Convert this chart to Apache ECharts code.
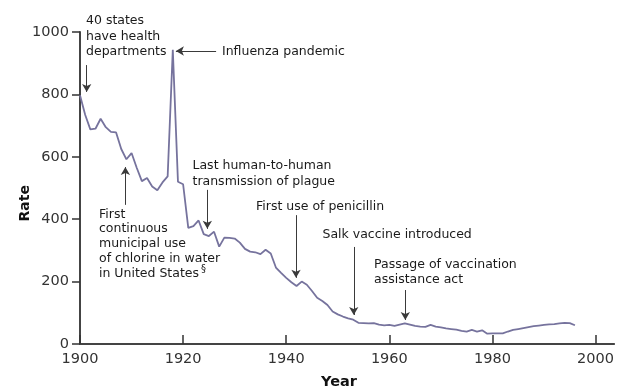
<!DOCTYPE html>
<html>
<head>
<meta charset="utf-8">
<script src="https://cdn.jsdelivr.net/npm/echarts@6/dist/echarts.min.js"></script>
<style>
  html, body { margin: 0; padding: 0; background: #fff; }
  #chart { width: 617px; height: 390px; }
</style>
</head>
<body>
<div id="chart"></div>
<script>
// Crude death rate for infectious diseases, United States, 1900-1996
const years = [];
for (let y = 1900; y <= 1996; y++) years.push(y);

const rates = [
  797, 735, 688, 690, 722, 695, 680, 678, 625, 592,   // 1900-1909
  612, 565, 522, 532, 505, 493, 518, 537, 943, 520,   // 1910-1919
  512, 372, 378, 396, 352, 346, 360, 312, 341, 340,   // 1920-1929
  338, 325, 305, 296, 294, 288, 302, 290, 245, 228,   // 1930-1939
  212, 198, 186, 200, 190, 170, 148, 138, 125, 104,   // 1940-1949
  95, 88, 82, 78, 68, 67, 66, 67, 62, 60,             // 1950-1959
  61, 58, 62, 66, 62, 58, 56, 55, 61, 56,             // 1960-1969
  53, 50, 48, 46, 42, 40, 45, 40, 44, 33,             // 1970-1979
  34, 34, 34, 40, 45, 48, 51, 54, 57, 59,             // 1980-1989
  61, 63, 64, 66, 68, 67, 60                          // 1990-1996
];

const xTicks = [1900, 1920, 1940, 1960, 1980, 2000];
const yTicks = [0, 200, 400, 600, 800, 1000];

// Arrow annotations: [year, from value] -> [year, to value]
const arrows = [
  [[1901.3, 894], [1901.3, 808]],   // 40 states have health departments
  [[1926.4, 939], [1918.6, 939]],   // Influenza pandemic
  [[1908.8, 446], [1908.8, 567]],   // chlorine in water
  [[1924.7, 494], [1924.7, 369]],   // plague
  [[1941.9, 413], [1941.9, 212]],   // penicillin
  [[1953.1, 311], [1953.1, 93]],    // Salk vaccine
  [[1963.1, 173], [1963.1, 77]]     // vaccination assistance act
];

const notes = [
  { text: '40 states\nhave health\ndepartments', x: 86, y: 13, lh: 15.5 },
  { text: 'Influenza pandemic', x: 222, y: 44, lh: 15 },
  { text: 'Last human-to-human\ntransmission of plague', x: 192.5, y: 158, lh: 15.7 },
  { text: 'First\ncontinuous\nmunicipal use\nof chlorine in water\nin United States', x: 99, y: 207, lh: 14.75 },
  { text: 'First use of penicillin', x: 256, y: 199, lh: 15 },
  { text: 'Salk vaccine introduced', x: 322.5, y: 227, lh: 15 },
  { text: 'Passage of vaccination\nassistance act', x: 374, y: 257.5, lh: 15 }
];

const FONT = '"DejaVu Sans", Verdana, sans-serif';
const chart = echarts.init(document.getElementById('chart'), null, { renderer: 'canvas' });

const graphics = notes.map(n => ({
  type: 'text',
  left: n.x, top: n.y,
  style: {
    text: n.text,
    font: '12.5px ' + FONT,
    fill: '#1a1a1a',
    lineHeight: n.lh,
    verticalAlign: 'top'
  }
}));
// superscript footnote mark after "States"
graphics.push({
  type: 'text', left: 201, top: 264,
  style: { text: '§', font: '10px ' + FONT, fill: '#1a1a1a' }
});
graphics.push({
  type: 'text', left: 18, top: 185,
  rotation: Math.PI / 2,
  style: { text: 'Rate', font: 'bold 14px ' + FONT, fill: '#111', align: 'center', verticalAlign: 'middle', x: 0, y: 0 }
});
graphics.push({
  type: 'text', left: 321, top: 375,
  style: { text: 'Year', font: 'bold 14.5px ' + FONT, fill: '#111' }
});

const plain = v => String(Math.round(v));

chart.setOption({
  animation: false,
  backgroundColor: '#fff',
  grid: { left: 80, right: 0, top: 32, bottom: 46, containLabel: false },
  xAxis: {
    type: 'value',
    min: 1900,
    max: 2003.6,
    interval: 20,
    axisLine: { show: true, lineStyle: { color: '#444', width: 2 } },
    axisTick: { show: true, inside: true, length: 9, customValues: xTicks, lineStyle: { color: '#333', width: 1.5 } },
    axisLabel: { customValues: xTicks, formatter: plain, margin: 8, fontFamily: FONT, fontSize: 14.5, color: '#333' },
    splitLine: { show: false }
  },
  yAxis: {
    type: 'value',
    min: 0,
    max: 1000,
    interval: 200,
    axisLine: { show: true, lineStyle: { color: '#444', width: 2 } },
    axisTick: { show: true, inside: false, length: 8, lineStyle: { color: '#333', width: 1.5 } },
    axisLabel: { customValues: yTicks, formatter: plain, margin: 11, fontFamily: FONT, fontSize: 14.5, color: '#333' },
    splitLine: { show: false }
  },
  series: [{
    type: 'line',
    data: years.map((y, i) => [y, rates[i]]),
    showSymbol: false,
    lineStyle: { color: '#76739d', width: 1.8 },
    markLine: {
      silent: true,
      symbol: ['none', 'arrow'],
      symbolSize: [7, 8],
      label: { show: false },
      lineStyle: { color: '#3a3a3a', width: 1, type: 'solid' },
      data: arrows.map(a => [{ coord: a[0] }, { coord: a[1] }])
    }
  }],
  graphic: graphics
});
</script>
</body>
</html>
